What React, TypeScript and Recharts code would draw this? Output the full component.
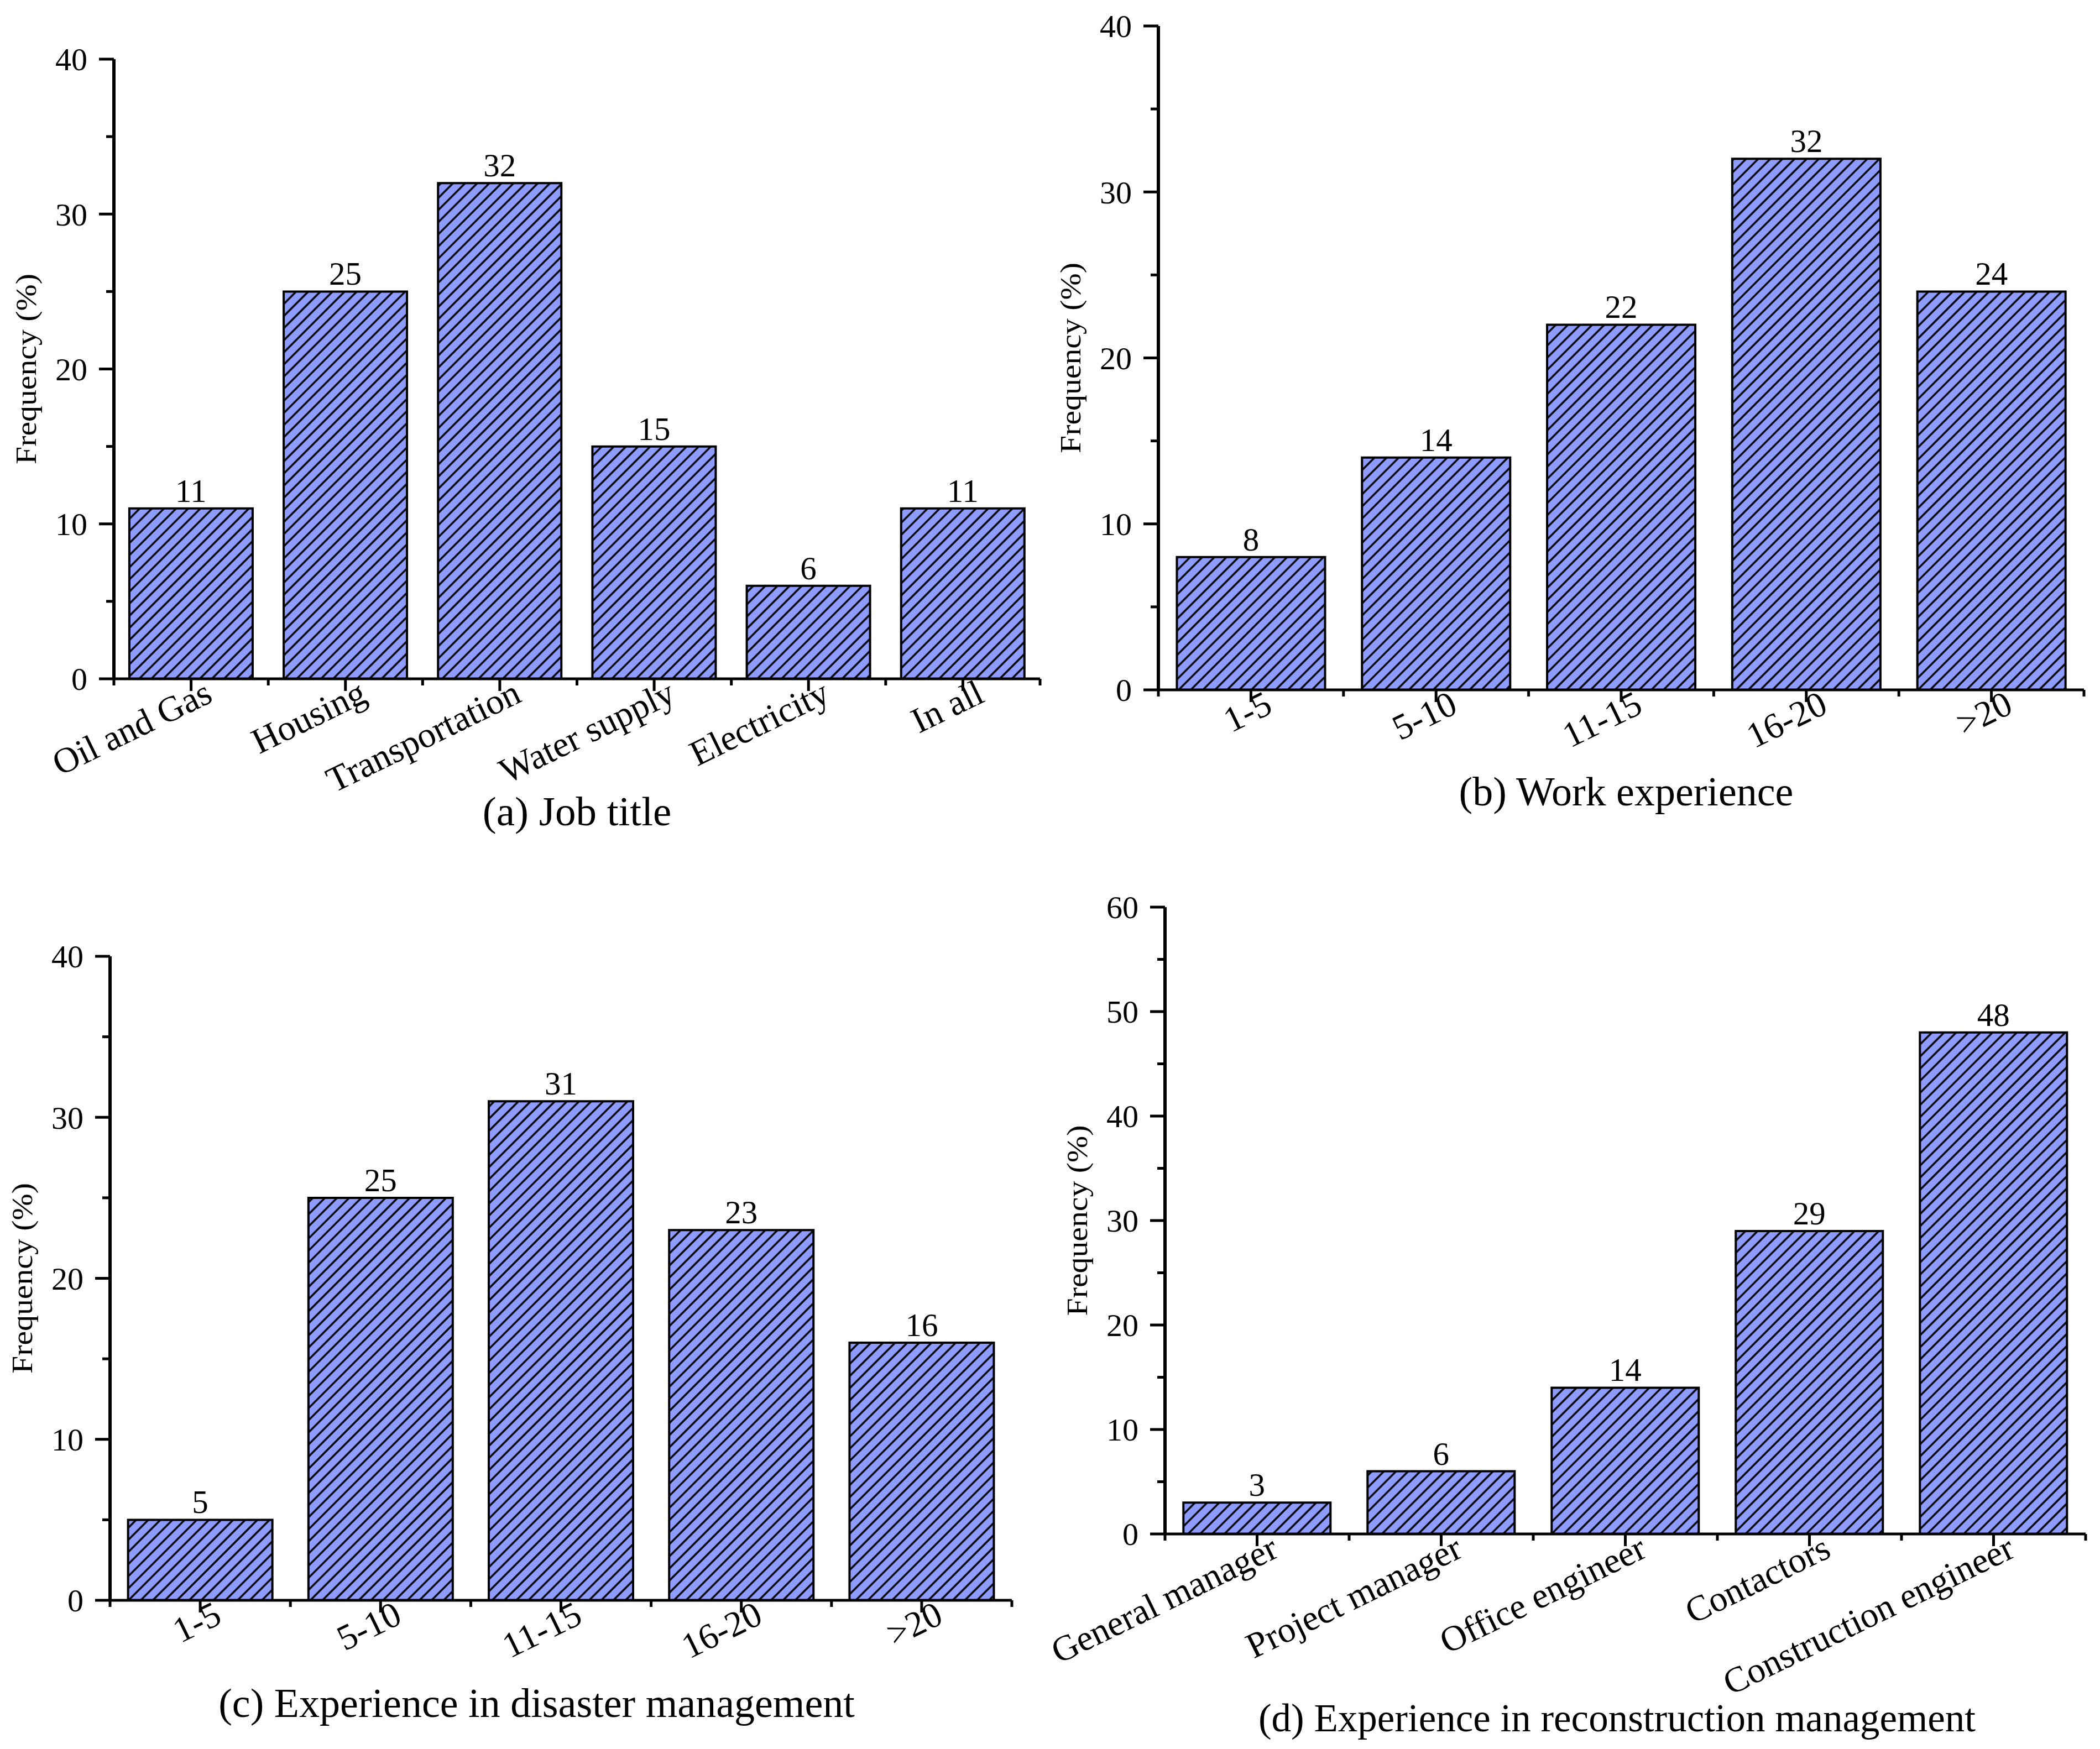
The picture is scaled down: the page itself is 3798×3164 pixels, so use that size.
import { Bar, BarChart, Label, LabelList, XAxis, YAxis } from "recharts";

const FONT = '"Liberation Serif", "Times New Roman", Times, serif';
const BAR_FILL = "#8f9cff";
const INK = "#000";

// (a) Job title
const jobTitles = ["Oil and Gas", "Housing", "Transportation", "Water supply", "Electricity", "In all"];
const jobTitleShare = [11, 25, 32, 15, 6, 11];

// (b) Work experience
const workYears = ["1-5", "5-10", "11-15", "16-20", ">20"];
const workShare = [8, 14, 22, 32, 24];

// (c) Experience in disaster management
const disasterYears = ["1-5", "5-10", "11-15", "16-20", ">20"];
const disasterShare = [5, 25, 31, 23, 16];

// (d) Experience in reconstruction management
const roles = ["General manager", "Project manager", "Office engineer", "Contactors", "Construction engineer"];
const roleShare = [3, 6, 14, 29, 48];

const ticksTo40 = [0, 5, 10, 15, 20, 25, 30, 35, 40];
const ticksTo60 = [0, 5, 10, 15, 20, 25, 30, 35, 40, 45, 50, 55, 60];

const LABEL_ANGLE = 26;

type Box = { left: number; top: number; width: number; height: number };
type Plot = { left: number; right: number; top: number; bottom: number };

function ValueTick(props: any) {
  const { x, y, payload } = props;
  const major = payload.value % 10 === 0;
  return (
    <g>
      <line x1={x - (major ? 27 : 14)} y1={y} x2={x} y2={y} stroke={INK} strokeWidth={5} />
      {major && (
        <text
          x={x - 48}
          y={y}
          dy="0.35em"
          textAnchor="end"
          fontFamily={FONT}
          fontSize={58}
          fill={INK}
        >
          {payload.value}
        </text>
      )}
    </g>
  );
}

function CategoryTick(props: any) {
  const { x, y, payload, band, index } = props;
  const half = band / 2;
  return (
    <g>
      <line x1={x} y1={y} x2={x} y2={y + 22} stroke={INK} strokeWidth={5} />
      <line x1={x + half} y1={y} x2={x + half} y2={y + 12} stroke={INK} strokeWidth={5} />
      {index === 0 && (
        <line x1={x - half} y1={y} x2={x - half} y2={y + 12} stroke={INK} strokeWidth={5} />
      )}
      <text
        transform={`translate(${x + 42},${y + 40}) rotate(${-LABEL_ANGLE})`}
        textAnchor="end"
        fontFamily={FONT}
        fontSize={65}
        fill={INK}
      >
        {payload.value}
      </text>
    </g>
  );
}

type PanelProps = {
  id: string;
  box: Box;
  plot: Plot;
  categories: string[];
  values: number[];
  yMax: number;
  yTicks: number[];
  title: string;
  titleDx: number;
  titleDy: number;
  titleSize: number;
};

function Panel({ id, box, plot, categories, values, yMax, yTicks, title, titleDx, titleDy, titleSize }: PanelProps) {
  const data = categories.map((name, i) => ({ name, value: values[i] }));
  const band = (plot.right - plot.left) / categories.length;
  const xAxisHeight = box.height - plot.bottom;

  return (
    <div style={{ position: "absolute", left: box.left, top: box.top }}>
      <BarChart
        width={box.width}
        height={box.height}
        data={data}
        margin={{ top: plot.top, right: box.width - plot.right, bottom: 0, left: 0 }}
        barCategoryGap="10%"
      >
        <defs>
          <pattern
            id={`hatch-${id}`}
            patternUnits="userSpaceOnUse"
            width={15.5}
            height={15.5}
            patternTransform="rotate(45)"
          >
            <rect width={15.5} height={15.5} fill={BAR_FILL} />
            <line x1={7.75} y1={0} x2={7.75} y2={15.5} stroke={INK} strokeWidth={3.4} />
          </pattern>
        </defs>
        <XAxis
          dataKey="name"
          type="category"
          interval={0}
          height={xAxisHeight}
          tickLine={false}
          tickSize={0}
          tickMargin={0}
          axisLine={{ stroke: INK, strokeWidth: 5 }}
          tick={(p: any) => <CategoryTick {...p} band={band} />}
        >
          <Label
            content={(p: any) => {
              const vb = p.viewBox;
              return (
                <text
                  x={vb.x + vb.width / 2 + titleDx}
                  y={vb.y + titleDy}
                  dy="0.35em"
                  textAnchor="middle"
                  fontFamily={FONT}
                  fontSize={titleSize}
                  fill={INK}
                >
                  {title}
                </text>
              );
            }}
          />
        </XAxis>
        <YAxis
          type="number"
          domain={[0, yMax]}
          ticks={yTicks}
          interval={0}
          width={plot.left}
          tickLine={false}
          tickSize={0}
          tickMargin={0}
          axisLine={{ stroke: INK, strokeWidth: 6 }}
          tick={(p: any) => <ValueTick {...p} />}
        >
          <Label
            content={(p: any) => {
              const vb = p.viewBox;
              const cx = vb.x + vb.width - 160;
              const cy = vb.y + vb.height / 2;
              return (
                <text
                  transform={`translate(${cx},${cy}) rotate(-90)`}
                  dy="0.35em"
                  textAnchor="middle"
                  fontFamily={FONT}
                  fontSize={53}
                  textLength={345}
                  lengthAdjust="spacingAndGlyphs"
                  fill={INK}
                >
                  Frequency (%)
                </text>
              );
            }}
          />
        </YAxis>
        <Bar
          dataKey="value"
          fill={`url(#hatch-${id})`}
          stroke={INK}
          strokeWidth={4}
          isAnimationActive={false}
        >
          <LabelList
            dataKey="value"
            position="top"
            offset={12}
            fontFamily={FONT}
            fontSize={59}
            fill={INK}
          />
        </Bar>
      </BarChart>
    </div>
  );
}

export default function App() {
  return (
    <div
      style={{
        position: "absolute",
        left: 0,
        top: 0,
        width: 3798,
        height: 3164,
        background: "#fff",
        overflow: "hidden",
      }}
    >
      <Panel
        id="a"
        box={{ left: 0, top: 0, width: 1900, height: 1582 }}
        plot={{ left: 206, right: 1881, top: 107, bottom: 1228 }}
        categories={jobTitles}
        values={jobTitleShare}
        yMax={40}
        yTicks={ticksTo40}
        title="(a) Job title"
        titleDx={0}
        titleDy={239}
        titleSize={75}
      />
      <Panel
        id="b"
        box={{ left: 1900, top: 0, width: 1898, height: 1582 }}
        plot={{ left: 195, right: 1869, top: 47, bottom: 1248 }}
        categories={workYears}
        values={workShare}
        yMax={40}
        yTicks={ticksTo40}
        title="(b) Work experience"
        titleDx={9}
        titleDy={183}
        titleSize={74}
      />
      <Panel
        id="c"
        box={{ left: 0, top: 1582, width: 1900, height: 1582 }}
        plot={{ left: 199, right: 1830, top: 148, bottom: 1313 }}
        categories={disasterYears}
        values={disasterShare}
        yMax={40}
        yTicks={ticksTo40}
        title="(c) Experience in disaster management"
        titleDx={-44}
        titleDy={185}
        titleSize={74}
      />
      <Panel
        id="d"
        box={{ left: 1840, top: 1582, width: 1958, height: 1582 }}
        plot={{ left: 267, right: 1932, top: 59, bottom: 1193 }}
        categories={roles}
        values={roleShare}
        yMax={60}
        yTicks={ticksTo60}
        title="(d) Experience in reconstruction management"
        titleDx={-15}
        titleDy={332}
        titleSize={71}
      />
    </div>
  );
}
